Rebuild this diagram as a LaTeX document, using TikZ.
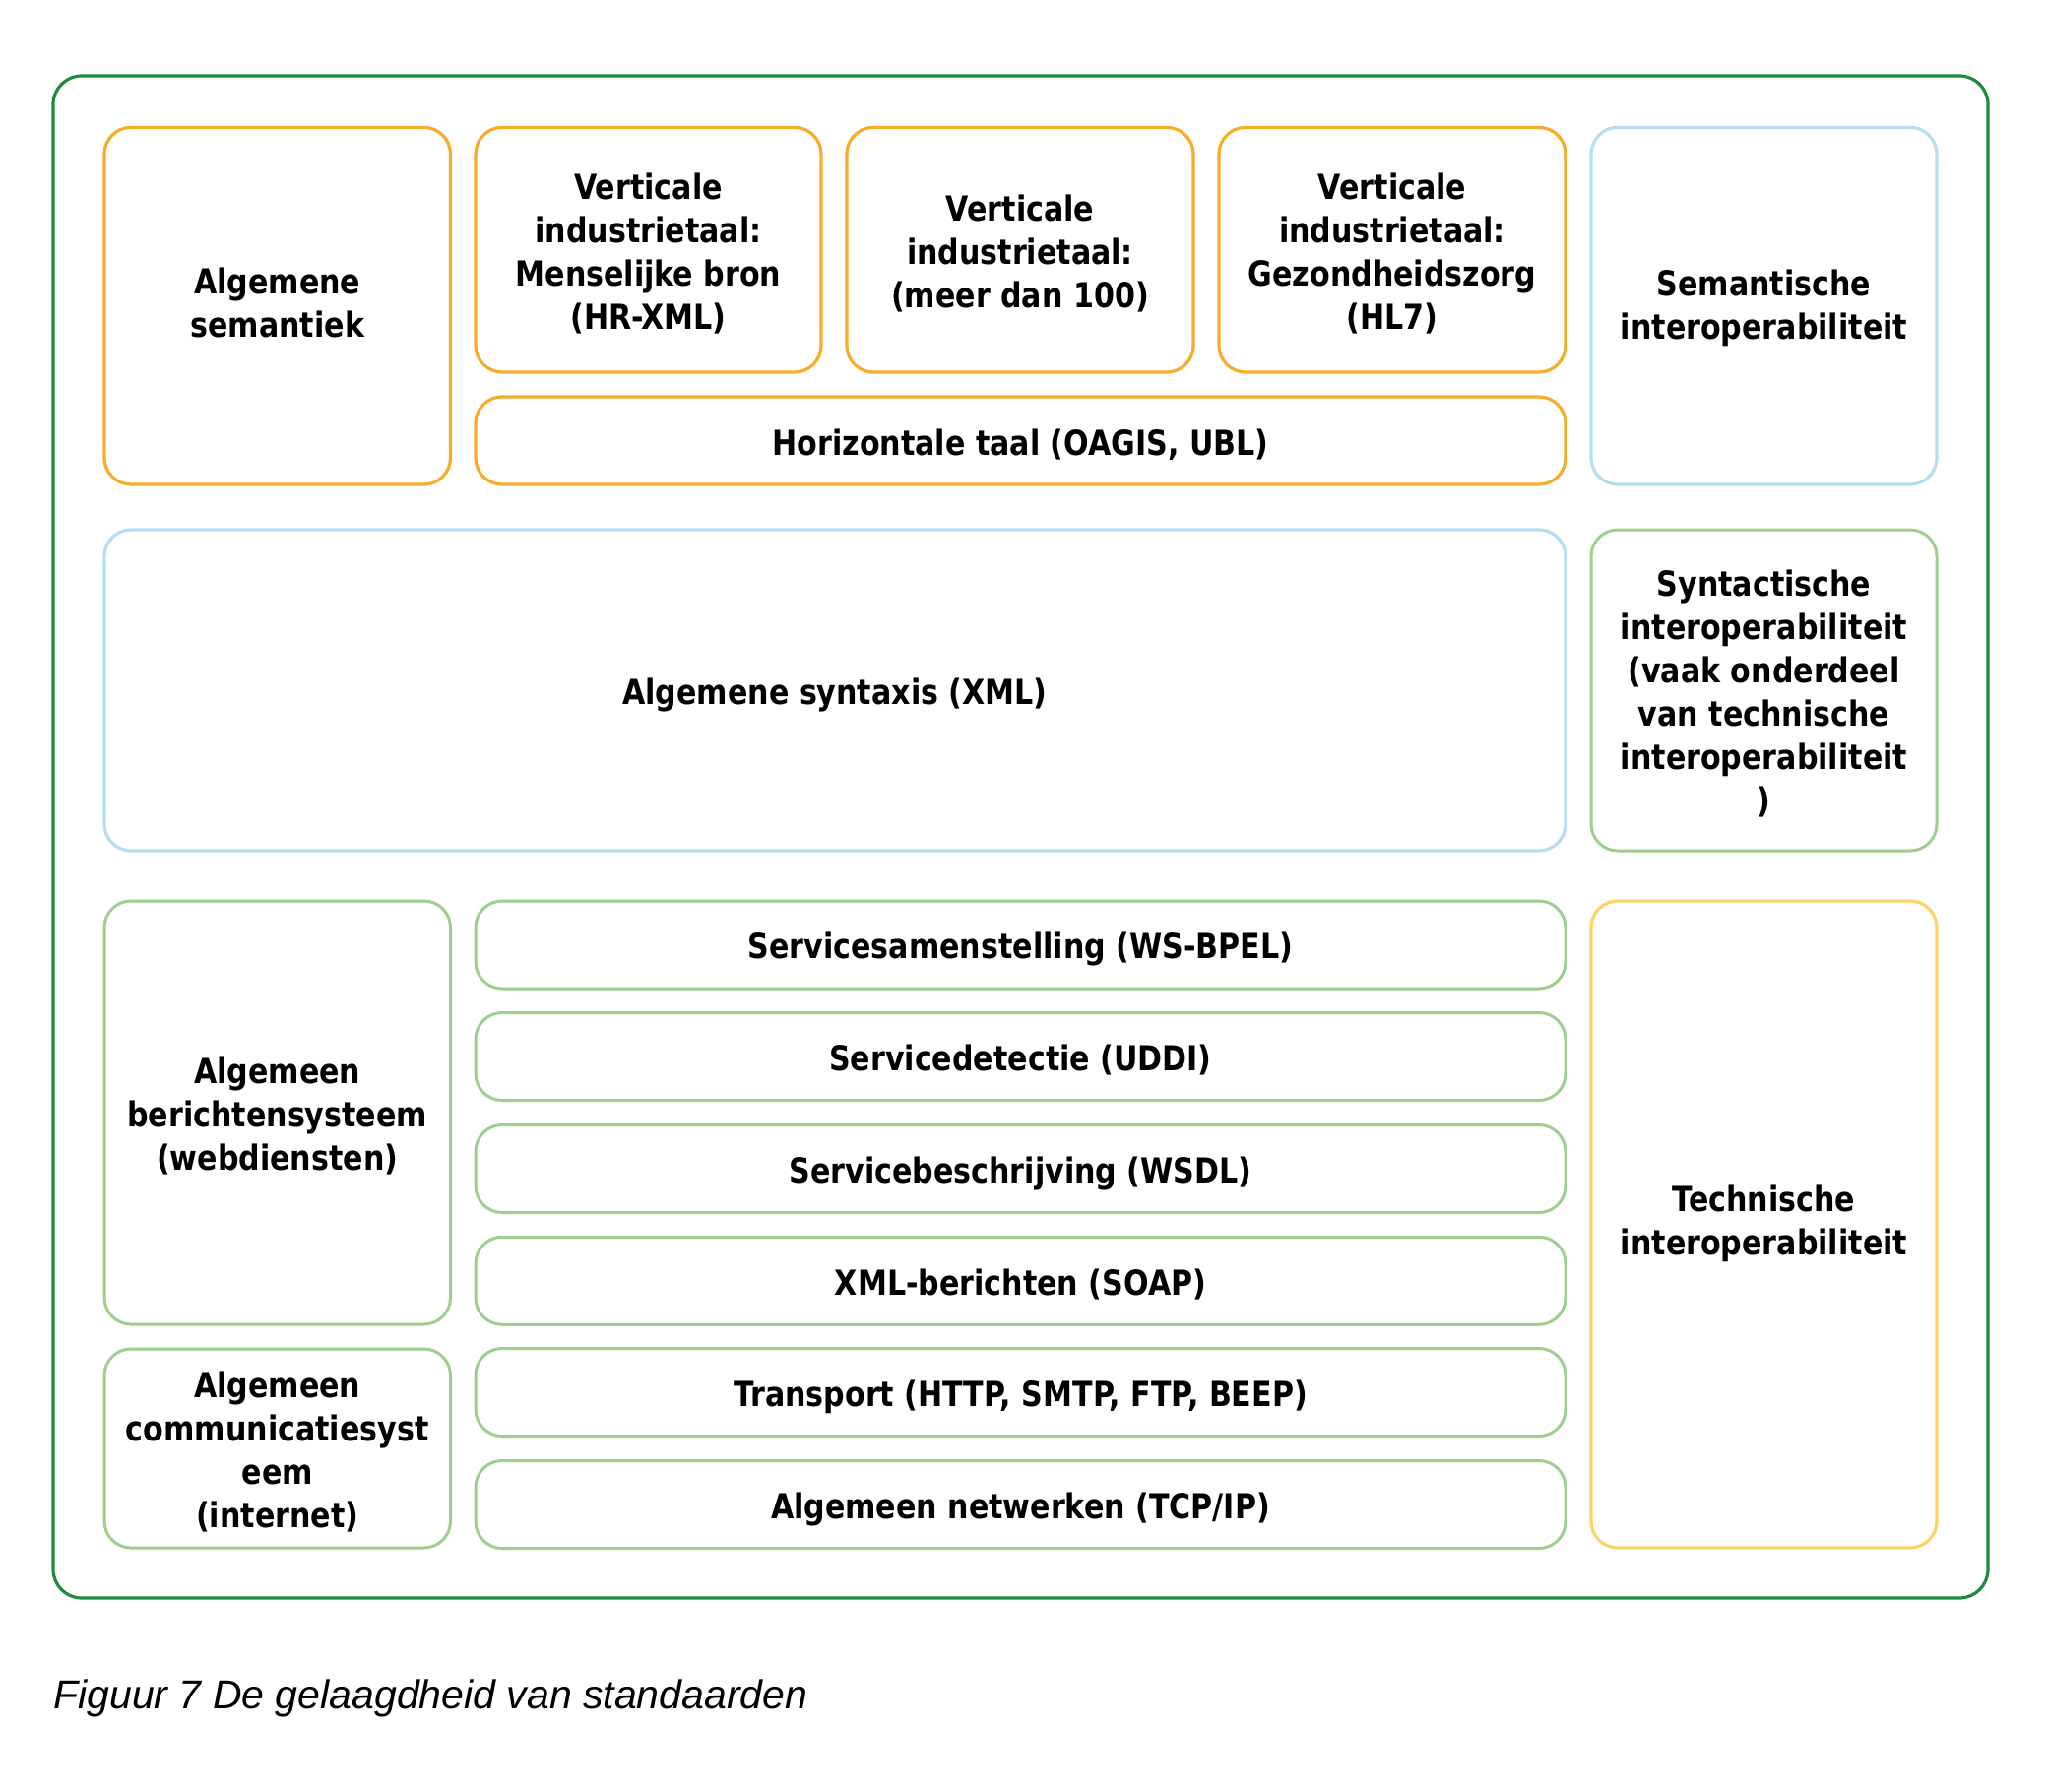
\documentclass[tikz,border=0pt]{standalone}
\usepackage{fontspec}
\newfontfamily\lab{DejaVu Sans}[FakeStretch=0.86]
\newfontfamily\capf{Liberation Sans}
\definecolor{frameG}{HTML}{1F8A40}
\definecolor{orangeC}{HTML}{F8AC2C}
\definecolor{blueC}{HTML}{B6DDF1}
\definecolor{greenC}{HTML}{9FCE8E}
\definecolor{yellowC}{HTML}{FCD466}
\newcommand\zs{\rule[-3.65pt]{0pt}{21.9pt}}
\newcommand\zd[1]{\rule[-#1]{0pt}{1pt}}
\setlength{\lineskiplimit}{-5pt}
\begin{document}
\begin{tikzpicture}[x=0.5pt,y=-0.5pt,
  box/.style={draw, rounded corners=13.5pt, line width=1.6pt, align=center, inner sep=0pt,
    font=\lab\bfseries\fontsize{17.5}{22}\selectfont},
  ob/.style={box, draw=orangeC},
  bb/.style={box, draw=blueC},
  gb/.style={box, draw=greenC, line width=1.5pt},
  yb/.style={box, draw=yellowC},
  frm/.style={draw=frameG, rounded corners=14.5pt, line width=1.6pt, inner sep=0pt}]
\useasboundingbox (0,0) rectangle (2079,1820);
\node[frm, minimum width=982.5pt, minimum height=773pt] (frame) at (1036.5,850) {};
% top band
\node[ob, minimum width=175.75pt, minimum height=181.3pt] (alsem) at (281.75,310.7) {\zs Algemene\\\zs semantiek\zd{8.35pt}};
\node[ob, minimum width=175.5pt, minimum height=124.3pt] (v1) at (658.5,253.7) {\zs Verticale\\\zs industrietaal:\\\zs Menselijke bron\\\zs (HR-XML)};
\node[ob, minimum width=176pt, minimum height=124.3pt] (v2) at (1036,253.7) {\zs Verticale\\\zs industrietaal:\\\zs (meer dan 100)};
\node[ob, minimum width=176pt, minimum height=124.3pt] (v3) at (1414,253.7) {\zs Verticale\\\zs industrietaal:\\\zs Gezondheidszorg\\\zs (HL7)};
\node[ob, minimum width=553.5pt, minimum height=44.5pt] (hor) at (1036.5,447.5) {\zs Horizontale taal (OAGIS, UBL)};
\node[bb, minimum width=175.5pt, minimum height=181.3pt] (sem) at (1791.5,310.7) {\zs Semantische\\\zs interoperabiliteit\zd{6.35pt}};
% middle band
\node[bb, minimum width=742pt, minimum height=163pt] (syn) at (848,701) {\zs Algemene syntaxis (XML)};
\node[gb, minimum width=175.5pt, minimum height=163pt] (synt) at (1791.5,701) {\zs Syntactische\\\zs interoperabiliteit\\\zs (vaak onderdeel\\\zs van technische\\\zs interoperabiliteit\\\zs )};
% bottom band
\node[gb, minimum width=175.75pt, minimum height=215pt] (ber) at (281.75,1130) {\zs Algemeen\\\zs berichtensysteem\\\zs (webdiensten)};
\node[gb, minimum width=175.75pt, minimum height=101pt] (com) at (281.75,1471) {\zs Algemeen\\\zs communicatiesyst\\\zs eem\\\zs (internet)};
\node[gb, minimum width=553.5pt, minimum height=44.5pt] (r1) at (1036.5,959.5) {\zs Servicesamenstelling (WS-BPEL)};
\node[gb, minimum width=553.5pt, minimum height=44.5pt] (r2) at (1036.5,1073) {\zs Servicedetectie (UDDI)};
\node[gb, minimum width=553.5pt, minimum height=44.5pt] (r3) at (1036.5,1187) {\zs Servicebeschrijving (WSDL)};
\node[gb, minimum width=553.5pt, minimum height=44.5pt] (r4) at (1036.5,1300.75) {\zs XML-berichten (SOAP)};
\node[gb, minimum width=553.5pt, minimum height=44.5pt] (r5) at (1036.5,1414) {\zs Transport (HTTP, SMTP, FTP, BEEP)};
\node[gb, minimum width=553.5pt, minimum height=44.5pt] (r6) at (1036.5,1528) {\zs Algemeen netwerken (TCP/IP)};
\node[yb, minimum width=175.5pt, minimum height=328.5pt] (tech) at (1791.5,1243.5) {\zs Technische\\\zs interoperabiliteit\zd{9.65pt}};
% caption
\node[anchor=base west, inner sep=0pt, font=\capf\itshape\fontsize{20.5}{24}\selectfont] (cap) at (54,1735) {Figuur 7 De gelaagdheid van standaarden};
\end{tikzpicture}
\end{document}
